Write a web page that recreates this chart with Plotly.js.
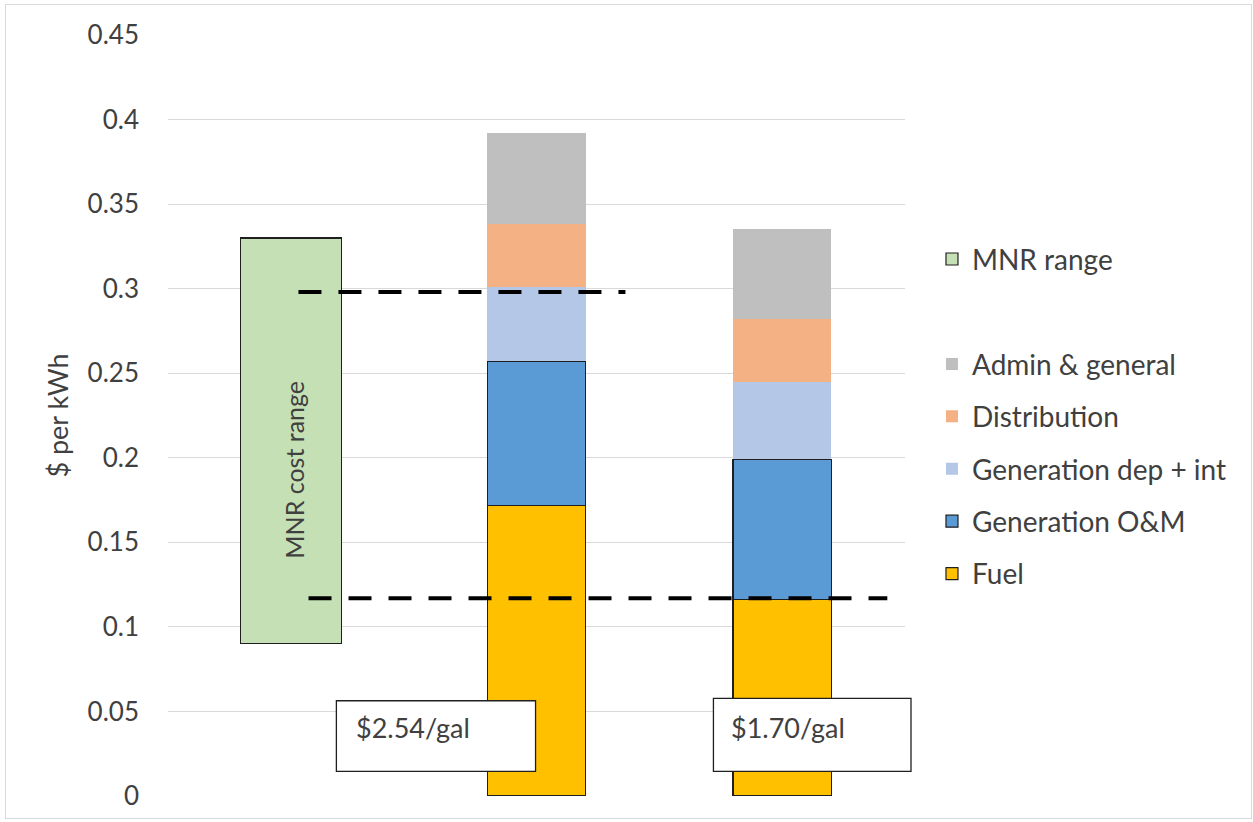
<!DOCTYPE html>
<html>
<head>
<meta charset="utf-8">
<script src="https://cdn.plot.ly/plotly-3.0.1.min.js"></script>
<style>
  html, body { margin: 0; padding: 0; background: #fff; }
  #chart { width: 1253px; height: 822px; position: absolute; left: 0; top: 0; }
  #frame { position: absolute; left: 5px; top: 4px; width: 1245px; height: 813px; border: 1px solid #d9d9d9; pointer-events: none; }
</style>
</head>
<body>
<div id="chart"></div>
<div id="frame"></div>
<script>
// ---- data ----
const categories = ['MNR range', '$2.54/gal', '$1.70/gal'];
const barPositions = [1, 2];            // index of the two cost bars
const fuel = [0.172, 0.116];
const generationOM = [0.085, 0.083];
const generationDepInt = [0.044, 0.046];
const distribution = [0.037, 0.037];
const adminGeneral = [0.054, 0.053];
const mnrLow = 0.09;
const mnrHigh = 0.33;
const upperLevel = 0.298;
const lowerLevel = 0.117;
const upperLineX = [0.031, 1.362];
const lowerLineX = [0.072, 2.428];
const yTicks = [0, 0.05, 0.1, 0.15, 0.2, 0.25, 0.3, 0.35, 0.4, 0.45];
const yTickText = ['0', '0.05', '0.1', '0.15', '0.2', '0.25', '0.3', '0.35', '0.4', '0.45'];
const priceLabels = ['$2.54/gal', '$1.70/gal'];

const FONT = 'Lato, "Open Sans", sans-serif';
const TXT = '#404040';
const OUT = '#1f1f1f';

const traces = [
  { type: 'bar', name: 'Fuel', x: barPositions, y: fuel, width: 0.4,
    marker: { color: '#FFC000', line: { color: OUT, width: 1.2 } }, legendgroup: 'g5', legendrank: 5, hoverinfo: 'skip' },
  { type: 'bar', name: 'Generation O&M', x: barPositions, y: generationOM, width: 0.4,
    marker: { color: '#5B9BD5', line: { color: OUT, width: 1.2 } }, legendgroup: 'g4', legendrank: 4, hoverinfo: 'skip' },
  { type: 'bar', name: 'Generation dep + int', x: barPositions, y: generationDepInt, width: 0.4,
    marker: { color: '#B4C7E7', line: { width: 0 } }, legendgroup: 'g3', legendrank: 3, hoverinfo: 'skip' },
  { type: 'bar', name: 'Distribution', x: barPositions, y: distribution, width: 0.4,
    marker: { color: '#F4B183', line: { width: 0 } }, legendgroup: 'g2', legendrank: 2, hoverinfo: 'skip' },
  { type: 'bar', name: 'Admin & general', x: barPositions, y: adminGeneral, width: 0.4,
    marker: { color: '#BFBFBF', line: { width: 0 } }, legendgroup: 'g1', legendrank: 1, hoverinfo: 'skip' },
  { type: 'bar', name: 'MNR range', x: [0], base: [mnrLow], y: [mnrHigh - mnrLow], width: 0.41,
    marker: { color: '#C5E0B4', line: { color: OUT, width: 1.2 } }, legend: 'legend2', hoverinfo: 'skip' },
  { type: 'scatter', mode: 'lines', x: upperLineX, y: [upperLevel, upperLevel], showlegend: false,
    line: { color: '#000', width: 4, dash: '23px,17px' }, hoverinfo: 'skip' },
  { type: 'scatter', mode: 'lines', x: lowerLineX, y: [lowerLevel, lowerLevel], showlegend: false,
    line: { color: '#000', width: 4, dash: '23px,17px' }, hoverinfo: 'skip' }
];

// paper helpers (plot area: x 167.5..905 px, y 34.6..796 px)
const L = 167.5, R = 905, T = 34.6, B = 796;
const px = v => (v - L) / (R - L);
const py = v => (B - v) / (B - T);

const layout = {
  width: 1253, height: 822,
  margin: { l: L, r: 1253 - R, t: T, b: 822 - B, pad: 0 },
  paper_bgcolor: '#fff', plot_bgcolor: '#fff',
  barmode: 'stack',
  font: { family: FONT, color: TXT, size: 22 },
  xaxis: { range: [-0.5, 2.5], showgrid: false, zeroline: false, showticklabels: false, ticks: '', showline: false, fixedrange: true },
  yaxis: {
    range: [0, 0.45], tickvals: yTicks, ticktext: yTickText,
    showgrid: true, gridcolor: '#d9d9d9', gridwidth: 1, zeroline: false, showline: false,
    ticks: '', ticklabelstandoff: 28, tickfont: { family: FONT, size: 26, color: TXT },
    title: { text: '$ per kWh', font: { family: FONT, size: 27, color: TXT }, standoff: 11 }
  },
  legend: {
    x: px(932), xanchor: 'left', y: py(339), yanchor: 'top',
    traceorder: 'grouped', tracegroupgap: 13, itemwidth: 30,
    font: { family: FONT, size: 28, color: TXT }, bgcolor: 'rgba(0,0,0,0)'
  },
  legend2: {
    x: px(932), xanchor: 'left', y: py(234), yanchor: 'top', itemwidth: 30,
    font: { family: FONT, size: 28, color: TXT }, bgcolor: 'rgba(0,0,0,0)'
  },
  shapes: [
    { type: 'rect', xref: 'paper', yref: 'paper', x0: px(336), x1: px(535.3), y0: py(771.3), y1: py(700.7),
      fillcolor: '#fff', line: { color: OUT, width: 1.3 }, layer: 'above' },
    { type: 'rect', xref: 'paper', yref: 'paper', x0: px(713.3), x1: px(911), y0: py(771.3), y1: py(698.3),
      fillcolor: '#fff', line: { color: OUT, width: 1.3 }, layer: 'above' }
  ],
  annotations: [
    { xref: 'paper', yref: 'paper', x: px(354), y: py(727), xanchor: 'left', yanchor: 'middle',
      text: priceLabels[0], showarrow: false, font: { family: FONT, size: 27, color: TXT } },
    { xref: 'paper', yref: 'paper', x: px(729), y: py(727), xanchor: 'left', yanchor: 'middle',
      text: priceLabels[1], showarrow: false, font: { family: FONT, size: 27, color: TXT } },
    { xref: 'x', yref: 'y', x: 0.015, y: 0.1927, textangle: -90, xanchor: 'center', yanchor: 'middle',
      text: 'MNR cost range', showarrow: false, font: { family: FONT, size: 25, color: TXT } }
  ],
  showlegend: true
};

Plotly.newPlot('chart', traces, layout, { staticPlot: true });
</script>
</body>
</html>
